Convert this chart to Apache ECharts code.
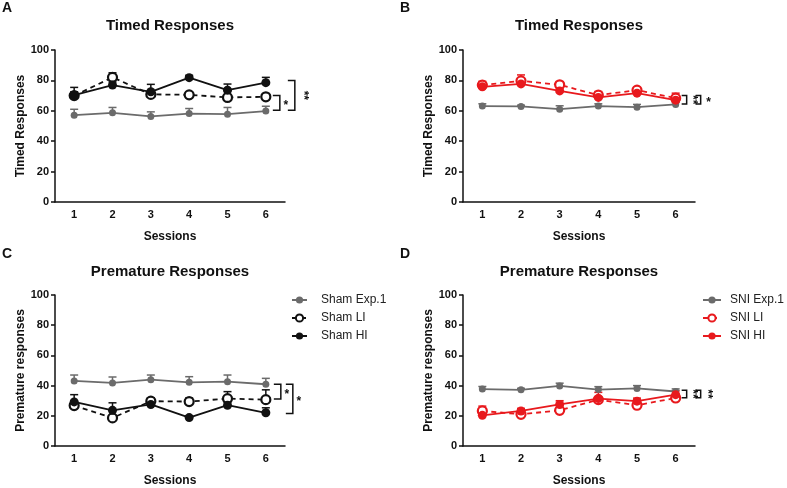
<!DOCTYPE html>
<html><head><meta charset="utf-8">
<script src="https://cdn.jsdelivr.net/npm/echarts@6/dist/echarts.min.js"></script>
<style>html,body{margin:0;padding:0;background:#fff}#c{width:787px;height:488px}</style>
</head><body><div id="c"></div>
<script>
const sessions = ['1','2','3','4','5','6'];

const timedShamExp = [57.1, 58.7, 56.3, 58.2, 57.8, 59.8];
const timedShamExpErr = [3.9, 3.5, 3.0, 3.3, 4.4, 3.2];
const timedShamLI = [70.0, 82.0, 70.8, 70.5, 68.8, 69.2];
const timedShamLIErr = [2.5, 3.0, 2.5, 1.5, 1.5, 1.5];
const timedShamHI = [70.3, 76.9, 72.5, 81.8, 73.6, 78.5];
const timedShamHIErr = [5.1, 2.0, 4.9, 1.5, 4.0, 3.5];

const timedSNIExp = [63.1, 62.9, 61.1, 63.1, 62.4, 64.2];
const timedSNIExpErr = [1.5, 0.8, 2.2, 1.5, 1.8, 1.2];
const timedSNILI = [76.9, 79.7, 77.1, 70.3, 73.6, 68.3];
const timedSNILIErr = [2.5, 3.9, 2.0, 2.4, 1.5, 3.3];
const timedSNIHI = [75.8, 77.7, 73.1, 68.8, 71.6, 67.0];
const timedSNIHIErr = [2.0, 2.0, 2.0, 1.5, 1.5, 1.5];

const prematureShamExp = [43.1, 41.8, 43.9, 42.2, 42.6, 40.9];
const prematureShamExpErr = [3.9, 3.9, 3.1, 3.7, 4.4, 3.9];
const prematureShamLI = [26.8, 18.6, 29.7, 29.4, 31.4, 30.7];
const prematureShamLIErr = [2.0, 1.5, 2.0, 2.4, 4.6, 6.5];
const prematureShamHI = [29.2, 23.6, 27.5, 18.8, 27.0, 22.0];
const prematureShamHIErr = [4.8, 5.0, 4.3, 1.2, 2.0, 3.3];

const prematureSNIExp = [37.7, 37.2, 39.8, 37.4, 38.1, 36.1];
const prematureSNIExpErr = [1.7, 1.0, 1.8, 1.9, 1.9, 1.7];
const prematureSNILI = [23.2, 21.0, 23.6, 30.7, 27.0, 31.8];
const prematureSNILIErr = [3.2, 1.5, 1.5, 1.5, 1.5, 1.5];
const prematureSNIHI = [20.3, 23.2, 27.5, 31.4, 29.7, 34.0];
const prematureSNIHIErr = [1.5, 1.7, 2.5, 4.1, 2.0, 2.6];

// significance brackets: [yTop, yBottom, label]
const bracketsA = [[70.0, 60.4, '*'], [80.0, 60.4, '**']];
const bracketsB = [[70.0, 64.5, '**'], [70.0, 64.5, '*']];
const bracketsC = [[40.9, 31.2, '*'], [40.9, 21.6, '*']];
const bracketsD = [[37.0, 32.0, '**'], [37.0, 32.0, '**']];

const GRAY = '#6b6b6b', BLACK = '#111111', RED = '#e8191d';
const FONT = 'Liberation Sans, Arial, sans-serif';

const grids = [
  {left: 55, top: 50, width: 230, height: 152},
  {left: 463, top: 50, width: 232, height: 152},
  {left: 55, top: 295, width: 230, height: 154},
  {left: 463, top: 295, width: 232, height: 154}
];
const yNames = ['Timed Responses','Timed Responses','Premature responses','Premature responses'];

const xAxes = grids.map((g,i)=>({
  type:'category', gridIndex:i, data:sessions, boundaryGap:true,
  name:'Sessions', nameLocation:'middle', nameGap:29,
  nameTextStyle:{fontFamily:FONT, fontWeight:'bold', fontSize:12, color:'#111'},
  axisLine:{lineStyle:{color:'#111', width:1.5}},
  axisTick:{alignWithLabel:true, length:4, lineStyle:{color:'#111', width:1.5}},
  axisLabel:{fontFamily:FONT, fontWeight:'bold', fontSize:11, color:'#111', margin:7},
  splitLine:{show:false}
}));
const yAxes = grids.map((g,i)=>({
  type:'value', gridIndex:i, min:0, max:100, interval:20,
  name:yNames[i], nameLocation:'middle', nameGap:27,
  nameTextStyle:{fontFamily:FONT, fontWeight:'bold', fontSize:12, color:'#111'},
  axisLine:{show:true, lineStyle:{color:'#111', width:1.5}},
  axisTick:{show:true, length:4, lineStyle:{color:'#111', width:1.5}},
  axisLabel:{fontFamily:FONT, fontWeight:'bold', fontSize:11, color:'#111', margin:6},
  splitLine:{show:false}
}));

const series = [];
function addGroup(idx, name, vals, errs, color, kind){
  const dashed = kind === 'LI';
  const isExp = kind === 'Exp';
  series.push({
    type:'custom', xAxisIndex:idx, yAxisIndex:idx, z:2, silent:true,
    data: vals.map((v,j)=>[j, v, v+errs[j]]),
    renderItem:(params, api)=>{
      const p0 = api.coord([api.value(0), api.value(1)]);
      const p1 = api.coord([api.value(0), api.value(2)]);
      const st = {stroke:color, lineWidth:1.5};
      return {type:'group', children:[
        {type:'line', shape:{x1:p0[0],y1:p0[1],x2:p1[0],y2:p1[1]}, style:st},
        {type:'line', shape:{x1:p1[0]-4,y1:p1[1],x2:p1[0]+4,y2:p1[1]}, style:st}
      ]};
    }
  });
  series.push({
    type:'line', name:name, xAxisIndex:idx, yAxisIndex:idx, z:3,
    data: vals,
    symbol:'circle', symbolSize: isExp ? 7 : 9,
    lineStyle:{color:color, width:1.8, type: dashed ? [5,4] : 'solid'},
    itemStyle: dashed ? {color:'#fff', borderColor:color, borderWidth:2.2} : {color:color, borderColor:color, borderWidth:0},
    animation:false
  });
}
addGroup(0,'Sham Exp.1',timedShamExp,timedShamExpErr,GRAY,'Exp');
addGroup(0,'Sham LI',timedShamLI,timedShamLIErr,BLACK,'LI');
addGroup(0,'Sham HI',timedShamHI,timedShamHIErr,BLACK,'HI');
addGroup(1,'SNI Exp.1',timedSNIExp,timedSNIExpErr,GRAY,'Exp');
addGroup(1,'SNI LI',timedSNILI,timedSNILIErr,RED,'LI');
addGroup(1,'SNI HI',timedSNIHI,timedSNIHIErr,RED,'HI');
addGroup(2,'Sham Exp.1',prematureShamExp,prematureShamExpErr,GRAY,'Exp');
addGroup(2,'Sham LI',prematureShamLI,prematureShamLIErr,BLACK,'LI');
addGroup(2,'Sham HI',prematureShamHI,prematureShamHIErr,BLACK,'HI');
addGroup(3,'SNI Exp.1',prematureSNIExp,prematureSNIExpErr,GRAY,'Exp');
addGroup(3,'SNI LI',prematureSNILI,prematureSNILIErr,RED,'LI');
addGroup(3,'SNI HI',prematureSNIHI,prematureSNIHIErr,RED,'HI');

// bracket layout (pixel offsets from the last session)
const bracketLayout = [
  [{off:14, tick:7, txt:20, rot:false}, {off:29, tick:7, txt:37, rot:true}],
  [{off:11, tick:5, txt:17, rot:true}, {off:25, tick:5, txt:33, rot:false}],
  [{off:15, tick:7, txt:21, rot:false}, {off:27, tick:7, txt:33, rot:false}],
  [{off:11, tick:5, txt:17, rot:true}, {off:25, tick:5, txt:32, rot:true}]
];
[bracketsA, bracketsB, bracketsC, bracketsD].forEach((br, idx)=>{
  series.push({
    type:'custom', xAxisIndex:idx, yAxisIndex:idx, z:4, silent:true,
    data: br.map((b,k)=>[sessions.length-1, b[0], b[1], k]),
    renderItem:(params, api)=>{
      const k = api.value(3);
      const L = bracketLayout[idx][k];
      const lab = br[k][2];
      const pt = api.coord([api.value(0), api.value(1)]);
      const pb = api.coord([api.value(0), api.value(2)]);
      const x = pt[0] + L.off;
      const st = {stroke:'#111', lineWidth:1.5, fill:null};
      const ym = (pt[1]+pb[1])/2;
      return {type:'group', children:[
        {type:'polyline', shape:{points:[[x-L.tick,pt[1]],[x,pt[1]],[x,pb[1]],[x-L.tick,pb[1]]]}, style:st},
        {type:'text', x: pt[0]+L.txt, y: ym + (L.rot?0:3), rotation: L.rot ? -Math.PI/2 : 0,
          style:{text:lab, fill:'#111', font:'bold 12px '+FONT, align:'center', verticalAlign:'middle'}}
      ]};
    }
  });
});

const titleStyle = {fill:'#111', font:'bold 15px '+FONT, align:'center', verticalAlign:'middle'};
const letterStyle = (t)=>({text:t, fill:'#111', font:'bold 14px '+FONT, align:'left', verticalAlign:'top'});
const graphic = [
  {type:'text', left:2, top:1, style:letterStyle('A')},
  {type:'text', left:400, top:1, style:letterStyle('B')},
  {type:'text', left:2, top:247, style:letterStyle('C')},
  {type:'text', left:400, top:247, style:letterStyle('D')},
  {type:'text', x:170, y:26, style:Object.assign({text:'Timed Responses'}, titleStyle)},
  {type:'text', x:579, y:26, style:Object.assign({text:'Timed Responses'}, titleStyle)},
  {type:'text', x:170, y:272, style:Object.assign({text:'Premature Responses'}, titleStyle)},
  {type:'text', x:579, y:272, style:Object.assign({text:'Premature Responses'}, titleStyle)}
];

const option = {
  animation:false,
  backgroundColor:'#fff',
  grid: grids,
  xAxis: xAxes,
  yAxis: yAxes,
  series: series,
  graphic: graphic,
  legend: [
    {data:['Sham Exp.1','Sham LI','Sham HI'], orient:'vertical', left:286, top:289,
     itemWidth:15, itemHeight:9, itemGap:6, selectedMode:false,
     textStyle:{fontFamily:FONT, fontSize:12, color:'#222', padding:[0,0,0,9]}},
    {data:['SNI Exp.1','SNI LI','SNI HI'], orient:'vertical', left:697, top:289, padding:[5,0,5,5],
     itemWidth:18, itemHeight:9, itemGap:6, selectedMode:false,
     textStyle:{fontFamily:FONT, fontSize:12, color:'#222', padding:[0,0,0,4]}}
  ]
};
const chart = echarts.init(document.getElementById('c'), null, {renderer:'canvas'});
chart.setOption(option);
</script></body></html>
